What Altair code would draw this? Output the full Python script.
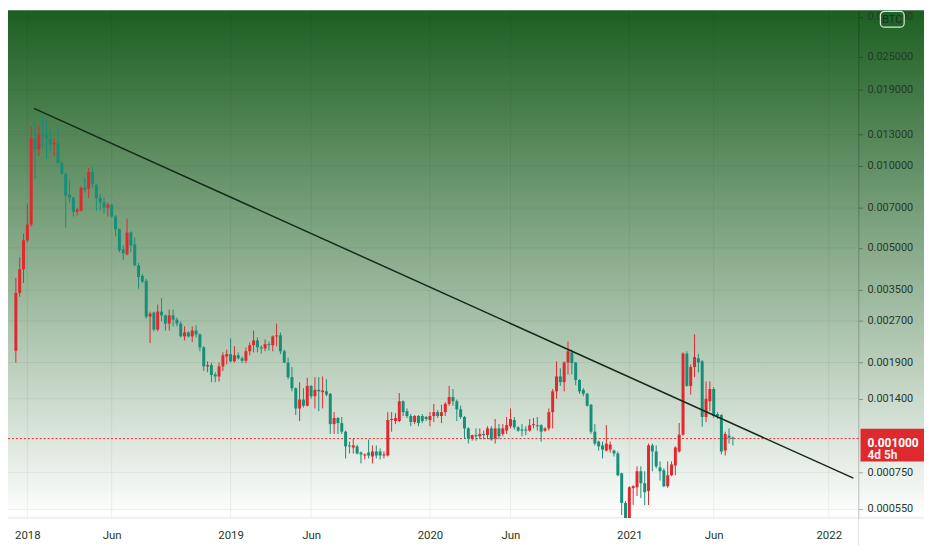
import altair as alt
import pandas as pd

# ---------------- data (weekly candles, price in BTC) ----------------
open_ = [
    0.00210, 0.00342, 0.00418, 0.00533, 0.00609, 0.01263, 0.01151, 0.01305, 0.01305, 0.01263,
    0.01200, 0.01210, 0.01024, 0.00934, 0.00783, 0.00764, 0.00679, 0.00685, 0.00831, 0.00824,
    0.00950, 0.00852, 0.00764, 0.00733, 0.00702, 0.00720, 0.00652, 0.00585, 0.00494, 0.00474,
    0.00570, 0.00515, 0.00432, 0.00395, 0.00379, 0.00280, 0.00290, 0.00251, 0.00292, 0.00283,
    0.00264, 0.00283, 0.00273, 0.00264, 0.00237, 0.00245, 0.00237, 0.00249, 0.00241, 0.00216,
    0.00184, 0.00186, 0.00172, 0.00169, 0.00184, 0.00200, 0.00204, 0.00192, 0.00202, 0.00197,
    0.00193, 0.00209, 0.00220, 0.00229, 0.00216, 0.00214, 0.00222, 0.00220, 0.00237, 0.00239,
    0.00209, 0.00190, 0.00168, 0.00153, 0.00129, 0.00139, 0.00132, 0.00156, 0.00143, 0.00151,
    0.00148, 0.00149, 0.00146, 0.00113, 0.00119, 0.00114, 0.00106, 0.000944, 0.000927, 0.000936,
    0.000889, 0.000867, 0.000889, 0.000860, 0.000897, 0.000897, 0.000867, 0.000867, 0.00117, 0.00116,
    0.00116, 0.00137, 0.00126, 0.00121, 0.00115, 0.00121, 0.00121, 0.00120, 0.00117, 0.00121,
    0.00125, 0.00121, 0.00125, 0.00134, 0.00142, 0.00137, 0.00128, 0.00120, 0.00109, 0.00100,
    0.00103, 0.00102, 0.00104, 0.00103, 0.00109, 0.00100, 0.00109, 0.00104, 0.00107, 0.00111,
    0.00117, 0.00110, 0.00108, 0.00108, 0.00107, 0.00112, 0.00112, 0.00112, 0.00107, 0.00109,
    0.00125, 0.00149, 0.00169, 0.00161, 0.00190, 0.00207, 0.00190, 0.00164, 0.00151, 0.00146,
    0.00133, 0.00106, 0.000975, 0.000944, 0.000904, 0.000912, 0.000904, 0.000882, 0.000746, 0.000581,
    0.000508, 0.000658, 0.000663, 0.000759, 0.000686, 0.000642, 0.000944, 0.000897, 0.000784, 0.000765,
    0.000669, 0.000734, 0.000797, 0.000897, 0.001034, 0.00205, 0.00156, 0.00183, 0.00197, 0.00192,
    0.00120, 0.00137, 0.00152, 0.00123, 0.00122, 0.000904, 0.001025, 0.001008,
]
high_ = [
    0.00388, 0.00462, 0.00565, 0.00726, 0.01396, 0.01456, 0.01396, 0.01544, 0.01456, 0.01349,
    0.01263, 0.01408, 0.01041, 0.00942, 0.00881, 0.00770, 0.00702, 0.00840, 0.00903, 0.00982,
    0.00991, 0.00860, 0.00790, 0.00764, 0.00733, 0.00726, 0.00660, 0.00590, 0.00511, 0.00641,
    0.00575, 0.00547, 0.00440, 0.00401, 0.00385, 0.00292, 0.00292, 0.00310, 0.00328, 0.00285,
    0.00297, 0.00297, 0.00278, 0.00269, 0.00258, 0.00247, 0.00258, 0.00260, 0.00243, 0.00218,
    0.00192, 0.00190, 0.00175, 0.00190, 0.00207, 0.00212, 0.00233, 0.00218, 0.00207, 0.00200,
    0.00216, 0.00225, 0.00249, 0.00235, 0.00220, 0.00231, 0.00227, 0.00239, 0.00264, 0.00245,
    0.00212, 0.00198, 0.00183, 0.00154, 0.00161, 0.00153, 0.00167, 0.00157, 0.00168, 0.00168,
    0.00169, 0.00165, 0.00147, 0.00125, 0.00120, 0.00120, 0.00107, 0.000975, 0.00100, 0.000950,
    0.000897, 0.000882, 0.000992, 0.000944, 0.000944, 0.000920, 0.000897, 0.00125, 0.00125, 0.00124,
    0.00147, 0.00138, 0.00129, 0.00123, 0.00122, 0.00122, 0.00123, 0.00121, 0.00125, 0.00134,
    0.00127, 0.00133, 0.00136, 0.00156, 0.00152, 0.00139, 0.00132, 0.00121, 0.00110, 0.001034,
    0.00109, 0.00109, 0.00107, 0.00111, 0.00111, 0.00118, 0.00113, 0.00113, 0.00120, 0.00129,
    0.00120, 0.00111, 0.00113, 0.00111, 0.00118, 0.00119, 0.00120, 0.00113, 0.00110, 0.00129,
    0.00152, 0.00192, 0.00181, 0.00192, 0.00227, 0.00212, 0.00191, 0.00165, 0.00153, 0.00147,
    0.00134, 0.00113, 0.000983, 0.000975, 0.00112, 0.000975, 0.000912, 0.000897, 0.000750, 0.000590,
    0.000669, 0.000675, 0.000791, 0.000791, 0.000759, 0.000959, 0.000959, 0.000944, 0.000825, 0.000778,
    0.000825, 0.000825, 0.000936, 0.00114, 0.00207, 0.00209, 0.00187, 0.00241, 0.00204, 0.00194,
    0.00162, 0.00162, 0.001545, 0.00125, 0.00123, 0.00106, 0.00109, 0.001017,
]
low_ = [
    0.00190, 0.00331, 0.00372, 0.00525, 0.00599, 0.00896, 0.01086, 0.01160, 0.01059, 0.01132,
    0.01086, 0.01020, 0.00930, 0.00594, 0.00733, 0.00652, 0.00657, 0.00680, 0.00797, 0.00764,
    0.00831, 0.00685, 0.00685, 0.00668, 0.00652, 0.00646, 0.00551, 0.00482, 0.00451, 0.00470,
    0.00482, 0.00428, 0.00354, 0.00372, 0.00275, 0.00224, 0.00247, 0.00247, 0.00269, 0.00249,
    0.00249, 0.00258, 0.00258, 0.00235, 0.00229, 0.00235, 0.00226, 0.00235, 0.00209, 0.00177,
    0.00175, 0.00161, 0.00161, 0.00162, 0.00177, 0.00187, 0.00190, 0.00190, 0.00195, 0.00189,
    0.00189, 0.00202, 0.00207, 0.00207, 0.00205, 0.00209, 0.00210, 0.00209, 0.00218, 0.00204,
    0.00189, 0.00165, 0.00149, 0.00122, 0.00116, 0.00130, 0.00131, 0.00140, 0.00129, 0.00126,
    0.00129, 0.00143, 0.00104, 0.00104, 0.00104, 0.00104, 0.000846, 0.000882, 0.000882, 0.000875,
    0.000811, 0.000839, 0.000846, 0.000811, 0.000846, 0.000839, 0.000846, 0.000860, 0.00106, 0.00113,
    0.00115, 0.00121, 0.00119, 0.00111, 0.00113, 0.00111, 0.00114, 0.00116, 0.00111, 0.00115,
    0.00119, 0.00114, 0.00121, 0.00132, 0.00132, 0.00116, 0.00118, 0.00100, 0.000959, 0.000983,
    0.000983, 0.000995, 0.000992, 0.000995, 0.000983, 0.000959, 0.000995, 0.00102, 0.00104, 0.00109,
    0.00108, 0.00106, 0.00102, 0.00103, 0.00106, 0.00109, 0.00107, 0.000975, 0.00106, 0.00107,
    0.00109, 0.00140, 0.00156, 0.00149, 0.00172, 0.00172, 0.00157, 0.00146, 0.00143, 0.00131,
    0.00104, 0.000944, 0.000904, 0.000846, 0.000897, 0.000889, 0.000860, 0.000728, 0.000525, 0.000471,
    0.000479, 0.000571, 0.000616, 0.000605, 0.000571, 0.000571, 0.000759, 0.000778, 0.000701, 0.000663,
    0.000660, 0.000728, 0.000734, 0.000889, 0.001025, 0.00155, 0.00145, 0.00168, 0.00175, 0.001105,
    0.00115, 0.00126, 0.00119, 0.00118, 0.000875, 0.000867, 0.000959, 0.000944,
]
close_ = [
    0.00342, 0.00418, 0.00533, 0.00609, 0.01263, 0.01151, 0.01295, 0.01295, 0.01263, 0.01200,
    0.01210, 0.01024, 0.00934, 0.00777, 0.00764, 0.00679, 0.00691, 0.00831, 0.00817, 0.00950,
    0.00859, 0.00764, 0.00733, 0.00702, 0.00720, 0.00652, 0.00585, 0.00490, 0.00478, 0.00570,
    0.00511, 0.00432, 0.00391, 0.00376, 0.00280, 0.00287, 0.00251, 0.00292, 0.00283, 0.00264,
    0.00283, 0.00273, 0.00264, 0.00237, 0.00245, 0.00237, 0.00249, 0.00241, 0.00216, 0.00184,
    0.00186, 0.00171, 0.00169, 0.00184, 0.00202, 0.00204, 0.00192, 0.00202, 0.00197, 0.00193,
    0.00209, 0.00220, 0.00229, 0.00216, 0.00214, 0.00222, 0.00220, 0.00237, 0.00239, 0.00209,
    0.00190, 0.00168, 0.00153, 0.00129, 0.00139, 0.00132, 0.00156, 0.00143, 0.00151, 0.00149,
    0.00150, 0.00145, 0.00113, 0.00119, 0.00114, 0.00106, 0.000936, 0.000936, 0.000944, 0.000882,
    0.000875, 0.000875, 0.000867, 0.000897, 0.000867, 0.000867, 0.000875, 0.00117, 0.00118, 0.00119,
    0.00137, 0.00125, 0.00121, 0.00115, 0.00121, 0.00114, 0.00116, 0.00118, 0.00121, 0.00125,
    0.00121, 0.00125, 0.00134, 0.00142, 0.00137, 0.00128, 0.00120, 0.00109, 0.00100, 0.00103,
    0.00102, 0.00104, 0.00103, 0.00109, 0.000992, 0.00109, 0.00102, 0.00109, 0.00112, 0.00118,
    0.00110, 0.00107, 0.00107, 0.00107, 0.00112, 0.00113, 0.00111, 0.00106, 0.00109, 0.00125,
    0.00149, 0.00169, 0.00161, 0.00190, 0.00209, 0.00189, 0.00164, 0.00149, 0.00146, 0.00132,
    0.00106, 0.000959, 0.000936, 0.000912, 0.000959, 0.000951, 0.000882, 0.000734, 0.000581, 0.000508,
    0.000663, 0.000669, 0.000759, 0.000686, 0.000636, 0.000944, 0.000897, 0.000791, 0.000759, 0.000669,
    0.000734, 0.000804, 0.000928, 0.001034, 0.00205, 0.00156, 0.00183, 0.00199, 0.00190, 0.00120,
    0.00140, 0.00152, 0.00121, 0.00121, 0.000897, 0.00104, 0.001008, 0.00100,
]

FIRST_WEEK = "2017-12-11"
Y_TICKS = [0.035, 0.025, 0.019, 0.013, 0.010, 0.007, 0.005, 0.0035, 0.0027, 0.0019, 0.0014, 0.00075, 0.00055]
X_TICKS = ["2018-01-01", "2018-06-04", "2019-01-07", "2019-06-03", "2020-01-06",
           "2020-06-01", "2021-01-04", "2021-06-07", "2022-01-03"]
TREND_DATES = ["2018-01-13", "2022-02-17"]
TREND_VALUES = [0.01623, 0.000716]
LAST_PRICE = [0.001]
COUNTDOWN = "4d 5h"
SYMBOL = "BTC"

# ---------------- tables ----------------
week_dates = pd.date_range(FIRST_WEEK, periods=len(close_), freq="7D").strftime("%Y-%m-%d").tolist()
candles = pd.DataFrame({"date": week_dates, "open": open_, "high": high_, "low": low_, "close": close_})
trend = pd.DataFrame({"date": TREND_DATES, "price": TREND_VALUES})
last = pd.DataFrame({"price": LAST_PRICE})
ticks_df = pd.DataFrame({"v": Y_TICKS})
one = pd.DataFrame({"a": [0]})

# ---------------- style ----------------
PLOT_W, PLOT_H = 858, 512
AXIS_W, AXIS_H = 66, 28
FONT = "Roboto"
RED = "#e1282e"
TEAL = "#178f78"
TREND_C = "#15291a"
LABEL_C = "#26392a"


def dt(s, h=0):
    return alt.DateTime(year=int(s[:4]), month=int(s[5:7]), date=int(s[8:10]), hours=h, utc=True)


x_scale = alt.Scale(type="utc", domain=[dt("2017-12-05", 17), dt("2022-02-17", 10)], nice=False)
y_scale = alt.Scale(type="log", domain=[0.000512, 0.03715], nice=False)

x_axis = alt.Axis(
    values=[dt(s) for s in X_TICKS],
    labelExpr="utcFormat(datum.value, '%m') == '01' ? utcFormat(datum.value, '%Y') : utcFormat(datum.value, '%b')",
    grid=False, domain=False, ticks=False, title=None, labelFont=FONT, labelFontSize=11.5,
    labelColor=LABEL_C, labelPadding=12, labelFlush=False, zindex=1,
)
# price axis: line and tick marks from the axis, labels drawn as a text layer below the symbol badge
y_axis = alt.Axis(
    orient="right", values=Y_TICKS, grid=False, title=None, labels=False,
    domain=True, domainColor="#000000", domainOpacity=0.12,
    ticks=True, tickSize=4, tickColor="#000000", tickOpacity=0.3, zindex=1,
)


def X(field):
    return alt.X(f"{field}:T", scale=x_scale, axis=x_axis)


def Y(field):
    return alt.Y(f"{field}:Q", scale=y_scale, axis=y_axis)


candle_color = alt.when(alt.datum.close >= alt.datum.open).then(alt.value(RED)).otherwise(alt.value(TEAL))

gradient = alt.LinearGradient(
    gradient="linear",
    stops=[alt.GradientStop(color="#1c5f21", offset=0), alt.GradientStop(color="#ffffff", offset=1)],
    x1=0, x2=0, y1=0, y2=1,
)

bg = alt.Chart(one).mark_rect(color=gradient).encode(
    x=alt.value(0), x2=alt.value(PLOT_W + AXIS_W), y=alt.value(0), y2=alt.value(PLOT_H)
)
hgrid = alt.Chart(ticks_df).mark_rule(color="#000000", opacity=0.06).encode(y=Y("v"))
vgrid = alt.Chart(pd.DataFrame({"d": X_TICKS})).mark_rule(color="#000000", opacity=0.06).encode(x=X("d"))
frame_b = alt.Chart(one).mark_rule(color="#000000", opacity=0.12).encode(
    x=alt.value(0), x2=alt.value(PLOT_W + AXIS_W), y=alt.value(PLOT_H)
)
frame_r = alt.Chart(one).mark_rule(color="#000000", opacity=0.12).encode(
    x=alt.value(PLOT_W), y=alt.value(0), y2=alt.value(PLOT_H + AXIS_H)
)
price_line = alt.Chart(last).mark_rule(color=RED, strokeDash=[2, 2], strokeWidth=1).encode(y=Y("price"))

wicks = alt.Chart(candles).mark_rule(strokeWidth=1, clip=True).encode(
    x=X("date"), y=Y("low"), y2="high:Q", color=candle_color
)
bodies = alt.Chart(candles).mark_bar(size=3, clip=True).encode(
    x=X("date"), y=Y("open"), y2="close:Q", color=candle_color
)
trend_line = alt.Chart(trend).mark_line(color=TREND_C, strokeWidth=1.5, clip=True).encode(
    x=X("date"), y=Y("price")
)

price_labels = alt.Chart(ticks_df).mark_text(
    align="left", baseline="middle", font=FONT, fontSize=11, color=LABEL_C
).encode(x=alt.value(PLOT_W + 9), y=Y("v"), text=alt.Text("v:Q", format=".6f"))

box = alt.Chart(one).mark_rect(color="#dc2a2f").encode(
    x=alt.value(PLOT_W + 2), x2=alt.value(PLOT_W + AXIS_W), y=alt.value(422), y2=alt.value(455)
)
box_price = alt.Chart(last).mark_text(
    align="left", baseline="middle", color="white", fontWeight="bold", fontSize=12, font=FONT
).encode(x=alt.value(PLOT_W + 9), y=alt.value(436), text=alt.Text("price:Q", format=".6f"))
box_time = alt.Chart(one).mark_text(
    align="left", baseline="middle", color="#ffe9e9", fontWeight="bold", fontSize=12, font=FONT
).encode(x=alt.value(PLOT_W + 9), y=alt.value(449), text=alt.value(COUNTDOWN))

badge = alt.Chart(one).mark_rect(
    fill="#21622a", stroke="#d8e8d8", strokeWidth=1.2, cornerRadius=4
).encode(x=alt.value(PLOT_W + 22), x2=alt.value(PLOT_W + 46), y=alt.value(1), y2=alt.value(17))
badge_text = alt.Chart(one).mark_text(
    align="center", baseline="middle", color="#163318", fontSize=11, font=FONT
).encode(x=alt.value(PLOT_W + 34), y=alt.value(9.5), text=alt.value(SYMBOL))

chart = alt.layer(
    bg, hgrid, vgrid, price_line, wicks, bodies, trend_line, frame_b, frame_r,
    price_labels, box, box_price, box_time, badge, badge_text,
).properties(
    width=PLOT_W, height=PLOT_H,
    autosize=alt.AutoSizeParams(type="none"),
    padding={"left": 0, "top": 0, "right": AXIS_W, "bottom": AXIS_H},
    background="#ffffff",
).configure_view(stroke=None)

chart.save("out.html", embed_options={"renderer": "svg", "actions": False})
